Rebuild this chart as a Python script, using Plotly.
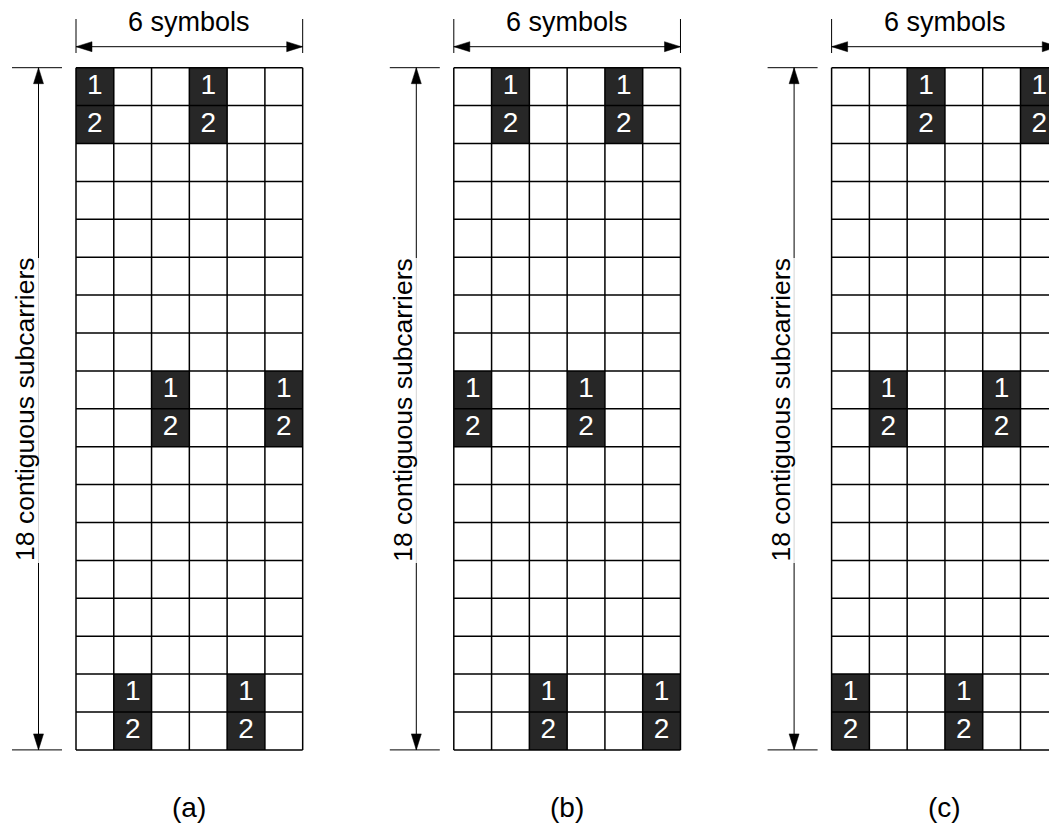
import plotly.graph_objects as go

# ---- data ----
n_rows = 18
n_cols = 6
panel_labels = ["(a)", "(b)", "(c)"]
panel_offsets = [0, 10, 20]          # column offset of each panel (in cell units)
pilot_rows = [0, 8, 16]               # first row of each pilot pair
pilot_cols = [                        # columns holding pilots, per panel, per pilot row
    [[0, 3], [2, 5], [1, 4]],
    [[1, 4], [0, 3], [2, 5]],
    [[2, 5], [1, 4], [0, 3]],
]
antenna_labels = ["1", "2"]
width_label = "6 symbols"
height_label = "18 contiguous subcarriers"

# ---- style / layout constants ----
W, H = 1049, 827
X0_PX, Y0_PX = 76.0, 67.7
CW, CH = 37.78, 37.9
FONT = "Liberation Sans, Arial, sans-serif"
DARK = "#272727"

x_range = [-X0_PX / CW, (W - X0_PX) / CW]
y_range = [(H - Y0_PX) / CH, -Y0_PX / CH]

def px_x(p):  # px offset -> cell units
    return p / CW

def px_y(p):
    return p / CH

fig = go.Figure()
shapes = []
annotations = []

# dark pilot cells
for pi, off in enumerate(panel_offsets):
    for ri, r in enumerate(pilot_rows):
        for c in pilot_cols[pi][ri]:
            for k in range(len(antenna_labels)):
                shapes.append(dict(type="rect", xref="x", yref="y",
                                   x0=off + c, x1=off + c + 1, y0=r + k, y1=r + k + 1,
                                   fillcolor=DARK, line=dict(width=0), layer="below"))

# grid lines
gx, gy = [], []
for off in panel_offsets:
    for c in range(n_cols + 1):
        gx += [off + c, off + c, None]
        gy += [0, n_rows, None]
    for r in range(n_rows + 1):
        gx += [off, off + n_cols, None]
        gy += [r, r, None]
fig.add_trace(go.Scatter(x=gx, y=gy, mode="lines", line=dict(color="black", width=1.5),
                         hoverinfo="skip", showlegend=False))

# antenna numbers
tx, ty, tt = [], [], []
for pi, off in enumerate(panel_offsets):
    for ri, r in enumerate(pilot_rows):
        for c in pilot_cols[pi][ri]:
            for k, lab in enumerate(antenna_labels):
                tx.append(off + c + 0.5)
                ty.append(r + k + 0.5)
                tt.append(lab)
fig.add_trace(go.Scatter(x=tx, y=ty, text=tt, mode="text",
                         textfont=dict(family=FONT, size=28, color="white"),
                         hoverinfo="skip", showlegend=False))

# dimension arrows
ax_y = px_y(46.7 - Y0_PX)
tick_top = px_y(19 - Y0_PX)
tick_bot = px_y(53 - Y0_PX)
vx = px_x(-37.5)
hx0, hx1 = px_x(-64), px_x(-14)
gap0, gap1 = px_y(258 - Y0_PX), px_y(563 - Y0_PX)
AL_x, AH_y = px_x(16), px_y(5)     # arrowhead length / half width (horizontal)
AL_y, AH_x = px_y(16), px_x(5)     # arrowhead (vertical)

lx, ly = [], []
gxl, gyl = [], []
for off in panel_offsets:
    # horizontal arrow
    lx += [off, off + n_cols, None, off, off, None, off + n_cols, off + n_cols, None]
    ly += [ax_y, ax_y, None, tick_top, tick_bot, None, tick_top, tick_bot, None]
    # vertical arrow
    lx += [off + vx, off + vx, None, off + vx, off + vx, None,
           off + hx0, off + hx1, None, off + hx0, off + hx1, None]
    ly += [0, gap0, None, gap1, n_rows, None, 0, 0, None, n_rows, n_rows, None]
    gxl += [off + vx, off + vx, None]
    gyl += [gap0, gap1, None]
    # arrowheads
    for p in [
        f"M{off},{ax_y} L{off + AL_x},{ax_y - AH_y} L{off + AL_x},{ax_y + AH_y} Z",
        f"M{off + n_cols},{ax_y} L{off + n_cols - AL_x},{ax_y - AH_y} L{off + n_cols - AL_x},{ax_y + AH_y} Z",
        f"M{off + vx},0 L{off + vx - AH_x},{AL_y} L{off + vx + AH_x},{AL_y} Z",
        f"M{off + vx},{n_rows} L{off + vx - AH_x},{n_rows - AL_y} L{off + vx + AH_x},{n_rows - AL_y} Z",
    ]:
        shapes.append(dict(type="path", xref="x", yref="y", path=p,
                           fillcolor="black", line=dict(color="black", width=0.5)))

fig.add_trace(go.Scatter(x=gxl, y=gyl, mode="lines", line=dict(color="#d4d4d4", width=1),
                         hoverinfo="skip", showlegend=False))
fig.add_trace(go.Scatter(x=lx, y=ly, mode="lines", line=dict(color="black", width=1),
                         hoverinfo="skip", showlegend=False))

for pi, off in enumerate(panel_offsets):
    annotations.append(dict(x=off + n_cols / 2, y=px_y(22.3 - Y0_PX), xref="x", yref="y",
                            text=width_label, showarrow=False,
                            font=dict(family=FONT, size=27, color="black")))
    annotations.append(dict(x=off + px_x(-51.0), y=n_rows / 2 + 0.03, xref="x", yref="y",
                            text=height_label, showarrow=False, textangle=-90,
                            font=dict(family=FONT, size=26.5, color="black")))
    annotations.append(dict(x=off + n_cols / 2, y=px_y(807 - Y0_PX), xref="x", yref="y",
                            text=panel_labels[pi], showarrow=False,
                            font=dict(family=FONT, size=28, color="black")))

fig.update_layout(
    width=W, height=H, margin=dict(l=0, r=0, t=0, b=0),
    paper_bgcolor="white", plot_bgcolor="white",
    xaxis=dict(range=x_range, visible=False, fixedrange=True),
    yaxis=dict(range=y_range, visible=False, fixedrange=True),
    shapes=shapes, annotations=annotations, showlegend=False,
)
fig.write_html("out.html", config={"displayModeBar": False},
               post_script="document.body.style.margin='0';document.body.style.overflow='hidden';")
